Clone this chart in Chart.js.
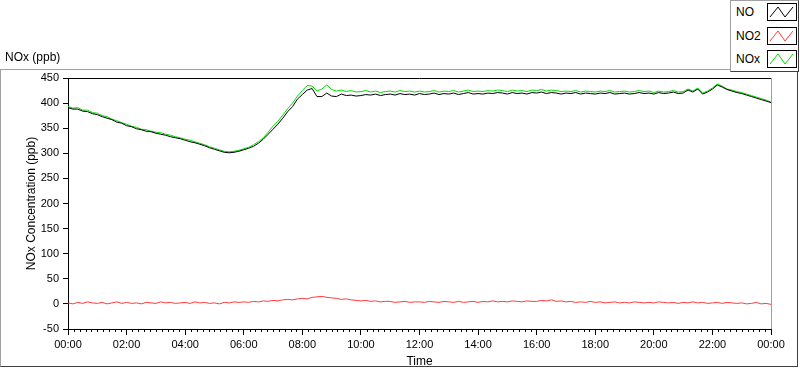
<!DOCTYPE html>
<html>
<head>
<meta charset="utf-8">
<script src="https://cdn.jsdelivr.net/npm/chart.js@4"></script>
<style>
  html, body { margin: 0; padding: 0; background: #fff; }
  #wrap { position: relative; width: 800px; height: 369px; overflow: hidden;
          font-family: "Liberation Sans", Arial, sans-serif; color: #000; }
  #frame { position: absolute; left: 0; top: 69px; width: 796px; height: 296px;
           border: 1px solid; border-color: #a0a0a0 #404040 #404040 #a0a0a0; }
  #chart { position: absolute; left: 0; top: 0; }
  #title { position: absolute; left: 5px; top: 50px; font-size: 12px; }
  #legend { position: absolute; left: 730px; top: 0; width: 67px; height: 70px; background: #fff;
            border: 1px solid; border-color: #a0a0a0 #404040 #404040 #a0a0a0; }
  .lg-row { position: absolute; left: 0; width: 67px; height: 22px; }
  .lg-row span { position: absolute; left: 5px; top: 4px; font-size: 12px; }
  .lg-row canvas { position: absolute; left: 36px; top: 2px; }
</style>
</head>
<body>
<div id="wrap">
  <div id="frame"></div>
  <canvas id="chart" width="800" height="369"></canvas>
  <div id="title">NOx (ppb)</div>
  <div id="legend"></div>
</div>
<script>
// 10-minute samples, 00:00 .. 24:00
const TIMES = Array.from({ length: 145 }, (_, i) => i * 10);

const NO = [
  391, 388, 388, 384, 383, 379,
  377, 373, 370, 367, 362, 360,
  355, 353, 349, 347, 344, 343,
  340, 338, 336, 333, 331, 329,
  326, 323, 321, 318, 315, 311,
  308, 305, 302, 301, 302, 304,
  307, 310, 314, 320, 328, 338,
  348, 358, 370, 383, 393, 408,
  417, 426, 429, 413, 413, 420,
  414, 413, 418, 415, 416, 414,
  415, 417, 416, 418, 415, 417,
  418, 416, 419, 417, 418, 416,
  419, 417, 418, 420, 417, 419,
  418, 420, 417, 419, 421, 418,
  419, 418, 420, 419, 421, 420,
  418, 421, 419, 420, 418, 421,
  420, 422, 419, 421, 420, 418,
  420, 419, 421, 418, 420, 419,
  418, 420, 419, 421, 418, 419,
  420, 418, 419, 421, 419, 420,
  418, 421, 419, 420, 422, 419,
  420, 426, 422, 428, 418, 422,
  428, 436, 432, 427, 424, 421,
  419, 416, 413, 410, 407, 404,
  401,
];

const NO2 = [
  2, 0, 3, 1, 4, 2,
  1, 3, 0, 2, 4, 1,
  3, 1, 2, 0, 3, 2,
  1, 4, 2, 3, 1, 2,
  3, 1, 4, 2, 3, 1,
  2, 0, 3, 2, 4, 3,
  4, 3, 5, 4, 6, 5,
  7, 6, 8, 9, 8, 10,
  11, 10, 13, 14, 15, 13,
  12, 11, 9, 10, 8, 7,
  6, 7, 5, 6, 4, 5,
  5, 3, 4, 5, 3, 4,
  4, 3, 5, 4, 3, 5,
  4, 3, 5, 3, 4, 5,
  3, 5, 4, 6, 4, 5,
  4, 6, 5, 4, 6, 5,
  5, 7, 6, 8, 5, 6,
  4, 5, 3, 4, 3, 5,
  3, 4, 2, 3, 4, 2,
  3, 2, 4, 3, 2, 3,
  2, 4, 3, 2, 3, 1,
  3, 2, 4, 2, 3, 1,
  2, 3, 1, 3, 2, 1,
  2, 0, 1, 3, 0, 1,
  -1,
];

const NOX = [
  393, 390, 391, 386, 386, 381,
  380, 375, 373, 368, 365, 361,
  358, 354, 352, 348, 347, 344,
  342, 341, 338, 336, 333, 331,
  328, 326, 323, 320, 317, 313,
  310, 307, 304, 303, 304, 306,
  309, 312, 317, 323, 331, 342,
  354, 364, 376, 389, 400, 414,
  425, 435, 434, 424, 428, 436,
  427, 424, 426, 423, 425, 422,
  423, 425, 422, 424, 421, 423,
  424, 422, 425, 423, 424, 422,
  424, 422, 423, 425, 422, 424,
  423, 425, 422, 424, 426, 423,
  424, 423, 425, 424, 426, 425,
  423, 426, 424, 425, 423, 426,
  425, 427, 424, 426, 425, 423,
  424, 423, 425, 422, 424, 423,
  422, 424, 423, 425, 422, 423,
  424, 422, 423, 425, 423, 424,
  421, 424, 422, 423, 425, 422,
  423, 428, 424, 430, 420, 424,
  430, 438, 434, 428, 426, 423,
  421, 418, 415, 412, 409, 406,
  402,
];

const SERIES = [
  { name: "NO", data: NO, color: "#000000" },
  { name: "NO2", data: NO2, color: "#ff3c3c" },
  { name: "NOx", data: NOX, color: "#00dd00" },
];

const MAJOR_STEP = 120, MINOR_STEP = 12;
const FONT = "'Liberation Sans', Arial, sans-serif";

const hhmm = (v) => String(Math.floor(v / 60) % 24).padStart(2, "0") + ":" +
  String(v % 60).padStart(2, "0");

// legend with little zigzag swatches
const legend = document.getElementById("legend");
SERIES.forEach((s, i) => {
  const row = document.createElement("div");
  row.className = "lg-row";
  row.style.top = (i * 23.5) + "px";
  const label = document.createElement("span");
  label.textContent = s.name;
  const sw = document.createElement("canvas");
  sw.width = 30; sw.height = 18;
  const c = sw.getContext("2d");
  c.fillStyle = "#fff"; c.fillRect(0, 0, 30, 18);
  c.strokeStyle = "#000"; c.lineWidth = 1;
  c.strokeRect(0.5, 0.5, 29, 17);
  c.strokeStyle = s.color;
  c.beginPath();
  c.moveTo(3, 14); c.lineTo(11, 4); c.lineTo(18, 14); c.lineTo(26, 4);
  c.stroke();
  row.appendChild(label); row.appendChild(sw);
  legend.appendChild(row);
});

// top/right border of the plot and the minor x ticks
const plotExtras = {
  id: "plotExtras",
  afterDraw(chart) {
    const { ctx, chartArea: a, scales: { x } } = chart;
    ctx.save();
    ctx.lineWidth = 1;
    ctx.strokeStyle = "#000";
    ctx.beginPath();
    ctx.moveTo(a.left, a.top + 0.5); ctx.lineTo(a.right, a.top + 0.5);
    ctx.stroke();
    ctx.strokeStyle = "#a0a0a0";
    ctx.beginPath();
    ctx.moveTo(a.right + 0.5, a.top); ctx.lineTo(a.right + 0.5, a.bottom);
    ctx.stroke();
    ctx.strokeStyle = "#000";
    ctx.beginPath();
    for (let m = 0; m <= 1440; m += MINOR_STEP) {
      if (m % MAJOR_STEP === 0) continue;
      const px = Math.round(x.getPixelForValue(m)) + 0.5;
      ctx.moveTo(px, a.bottom); ctx.lineTo(px, a.bottom + 3);
    }
    ctx.stroke();
    ctx.restore();
  },
};

new Chart(document.getElementById("chart"), {
  type: "line",
  data: {
    datasets: SERIES.map(s => ({
      label: s.name,
      data: s.data.map((v, i) => ({ x: TIMES[i], y: v })),
      borderColor: s.color, borderWidth: 1, pointRadius: 0,
      tension: 0, fill: false,
    })),
  },
  options: {
    responsive: false, animation: false,
    layout: { padding: { top: 78, right: 29, left: 0, bottom: 0 } },
    plugins: { legend: { display: false }, tooltip: { enabled: false } },
    scales: {
      x: {
        type: "linear", min: 0, max: 1440,
        afterFit: (s) => { s.height = 40; },
        border: { display: true, color: "#000", width: 1 },
        grid: { display: true, drawOnChartArea: false, drawTicks: true, tickLength: 6, color: "#000" },
        ticks: { stepSize: MAJOR_STEP, autoSkip: false, maxRotation: 0, padding: 3,
                 color: "#000", font: { family: FONT, size: 11 }, callback: (v) => hhmm(v) },
        title: { display: true, text: "Time", color: "#000", padding: { top: 0, bottom: 0 },
                 font: { family: FONT, size: 12 } },
      },
      y: {
        min: -50, max: 450,
        afterFit: (s) => { s.width = 68; },
        border: { display: true, color: "#000", width: 1 },
        grid: { display: true, drawOnChartArea: false, drawTicks: true, tickLength: 5, color: "#000" },
        ticks: { stepSize: 50, padding: 4, color: "#000", font: { family: FONT, size: 11 } },
        title: { display: true, text: "NOx Concentration (ppb)", color: "#000",
                 padding: { top: 24, bottom: 0 }, font: { family: FONT, size: 12 } },
      },
    },
  },
  plugins: [plotExtras],
});
</script>
</body>
</html>
